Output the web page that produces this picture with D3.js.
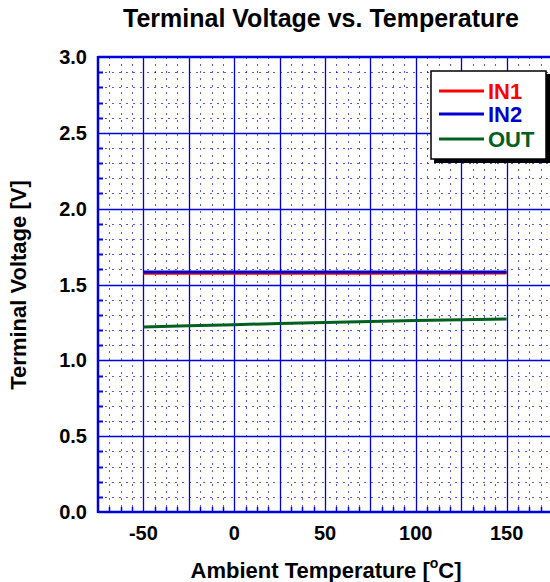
<!DOCTYPE html>
<html><head><meta charset="utf-8">
<script src="https://cdn.jsdelivr.net/npm/d3@7"></script>
<style>body{margin:0;background:#fff}text{font-family:"Liberation Sans",Arial,sans-serif;font-weight:bold}</style>
</head><body><svg id="c" width="550" height="582"></svg>
<script>
const temps = [-50, -25, 0, 25, 50, 75, 100, 125, 150];
const in1 = [1.575, 1.575, 1.575, 1.575, 1.575, 1.575, 1.576, 1.576, 1.576];
const in2 = [1.583, 1.583, 1.583, 1.583, 1.583, 1.583, 1.583, 1.583, 1.583];
const out = [1.220, 1.228, 1.235, 1.243, 1.250, 1.256, 1.262, 1.267, 1.272];
const xTicks = [-50, 0, 50, 100, 150];
const yTicks = [0, 0.5, 1.0, 1.5, 2.0, 2.5, 3.0];
const seriesNames = ["IN1", "IN2", "OUT"];
const seriesColors = ["#ff0000", "#0000cc", "#006020"];

const svg = d3.select("#c");
const L = 98, R = 552, T = 57, B = 512;
const x = d3.scaleLinear().domain([-75, 175]).range([L, R]);
const y = d3.scaleLinear().domain([0, 3]).range([B, T]);
const gc = "#0000dd";
const g = svg.append("g");

// minor grid
const xMinor = d3.range(-75, 175.01, 6.25).filter(v => Math.abs(v % 25) > 0.01);
const yMinor = d3.range(0, 3.001, 0.1).filter(v => Math.abs((v * 10) % 5) > 0.01);
g.selectAll(".vm").data(xMinor).join("line")
  .attr("x1", d => Math.round(x(d)) + 0.5).attr("x2", d => Math.round(x(d)) + 0.5)
  .attr("y1", T).attr("y2", B).attr("stroke", gc).attr("stroke-width", 1).attr("stroke-dasharray", "2,5")
  .attr("opacity", 0.65);
g.selectAll(".hm").data(yMinor).join("line")
  .attr("y1", d => Math.round(y(d)) + 0.5).attr("y2", d => Math.round(y(d)) + 0.5)
  .attr("x1", L).attr("x2", R).attr("stroke", gc).attr("stroke-width", 1).attr("stroke-dasharray", "2,5")
  .attr("opacity", 0.65);
// major grid
const xMajor = d3.range(-50, 175, 25);
const yMajor = d3.range(0.5, 3.0, 0.5);
g.selectAll(".vM").data(xMajor).join("line")
  .attr("x1", d => Math.round(x(d)) + 0.5).attr("x2", d => Math.round(x(d)) + 0.5)
  .attr("y1", T).attr("y2", B).attr("stroke", gc).attr("stroke-width", 1.3);
g.selectAll(".hM").data(yMajor).join("line")
  .attr("y1", d => Math.round(y(d)) + 0.5).attr("y2", d => Math.round(y(d)) + 0.5)
  .attr("x1", L).attr("x2", R).attr("stroke", gc).attr("stroke-width", 1.3);
// ticks inward on left and bottom
g.selectAll(".lt").data(yMinor).join("line")
  .attr("x1", L).attr("x2", L + 5).attr("y1", d => Math.round(y(d)) + 0.5).attr("y2", d => Math.round(y(d)) + 0.5)
  .attr("stroke", gc).attr("stroke-width", 2);
g.selectAll(".bt").data(xMinor).join("line")
  .attr("y1", B).attr("y2", B - 5).attr("x1", d => Math.round(x(d)) + 0.5).attr("x2", d => Math.round(x(d)) + 0.5)
  .attr("stroke", gc).attr("stroke-width", 1.5);
// frame
g.append("line").attr("x1", L).attr("x2", L).attr("y1", T - 1).attr("y2", B + 1).attr("stroke", gc).attr("stroke-width", 2.5);
g.append("line").attr("x1", L).attr("x2", R).attr("y1", B).attr("y2", B).attr("stroke", gc).attr("stroke-width", 2.5);
g.append("line").attr("x1", L).attr("x2", R).attr("y1", T).attr("y2", T).attr("stroke", gc).attr("stroke-width", 2.5);

// series
const line = d3.line().x((d, i) => x(temps[i])).y(d => y(d));
[in1, in2, out].forEach((s, i) => {
  svg.append("path").datum(s).attr("d", line).attr("fill", "none")
    .attr("stroke", seriesColors[i]).attr("stroke-width", 3);
});

// axes labels
svg.append("g").selectAll("text").data(yTicks).join("text")
  .attr("x", 87).attr("y", d => y(d) + 7).attr("text-anchor", "end")
  .attr("font-size", 20).text(d => d.toFixed(1));
svg.append("g").selectAll("text").data(xTicks).join("text")
  .attr("x", d => x(d)).attr("y", 540).attr("text-anchor", "middle")
  .attr("font-size", 20).text(d => d);

svg.append("text").attr("x", 321).attr("y", 27).attr("text-anchor", "middle")
  .attr("font-size", 25).text("Terminal Voltage vs. Temperature");
svg.append("text").attr("transform", "translate(26,285) rotate(-90)").attr("text-anchor", "middle")
  .attr("font-size", 22).text("Terminal Voltage [V]");
const xl = svg.append("text").attr("x", 326).attr("y", 578).attr("text-anchor", "middle").attr("font-size", 22);
xl.append("tspan").text("Ambient Temperature [");
xl.append("tspan").attr("font-size", 14).attr("dy", -10).text("o");
xl.append("tspan").attr("dy", 10).text("C]");

// legend
const lg = svg.append("g");
lg.append("rect").attr("x", 434).attr("y", 74).attr("width", 116).attr("height", 89).attr("fill", "#000");
lg.append("rect").attr("x", 431).attr("y", 71).attr("width", 115).attr("height", 88).attr("fill", "#fff")
  .attr("stroke", "#000").attr("stroke-width", 1.5);
const ly = [91, 114, 139];
seriesNames.forEach((n, i) => {
  lg.append("line").attr("x1", 439).attr("x2", 484).attr("y1", ly[i]).attr("y2", ly[i])
    .attr("stroke", seriesColors[i]).attr("stroke-width", 3);
  lg.append("text").attr("x", 488).attr("y", ly[i] + 8).attr("font-size", 22)
    .attr("fill", seriesColors[i]).text(n);
});
</script></body></html>
